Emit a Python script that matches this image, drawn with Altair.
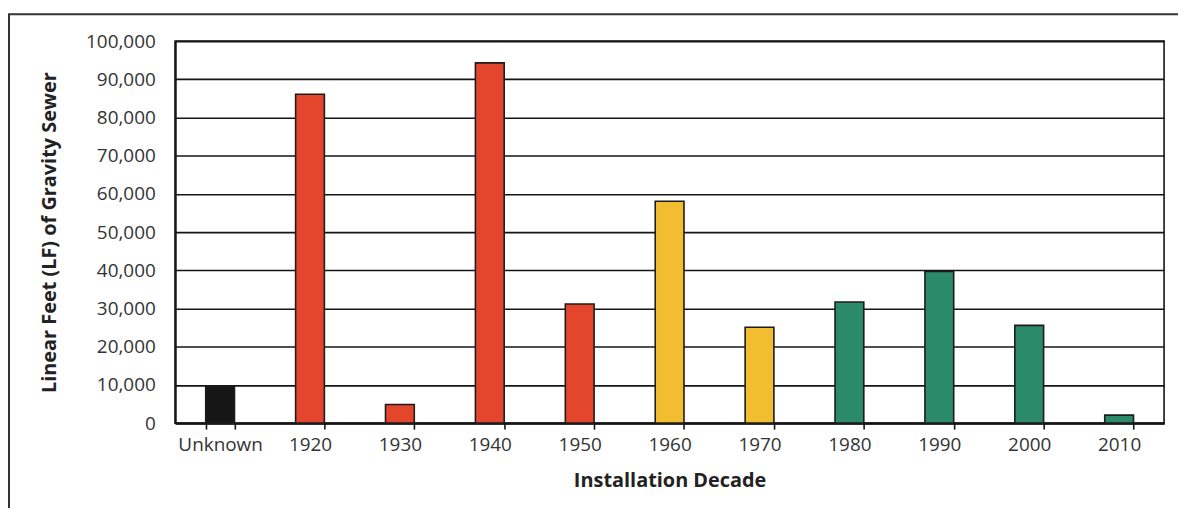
import altair as alt
import pandas as pd

decades = ["Unknown", "1920", "1930", "1940", "1950", "1960", "1970", "1980", "1990", "2000", "2010"]
lengths = [9600, 86100, 4900, 94300, 31200, 58100, 25100, 31700, 39700, 25600, 2100]
groups = ["unknown", "red", "red", "red", "red", "yellow", "yellow", "green", "green", "green", "green"]
group_domain = ["unknown", "red", "yellow", "green"]
group_colors = ["#161616", "#E4462D", "#F3BD31", "#2B8A69"]
y_ticks = list(range(0, 100001, 10000))

df = pd.DataFrame({"decade": decades, "lf": lengths, "group": groups})
frame_df = pd.DataFrame({"a": [0]})

FONT = "Open Sans"
INK = "#151515"

bars = alt.Chart(df).mark_bar(stroke="#1c1c1c", strokeWidth=1.6).encode(
    x=alt.X(
        "decade:N", sort=decades, title="Installation Decade",
        scale=alt.Scale(paddingInner=0.68, paddingOuter=0.34),
        axis=alt.Axis(
            labelAngle=0, tickBand="extent", ticks=True, tickSize=6,
            tickColor=INK, tickWidth=1.6, domainColor=INK, domainWidth=2.2,
            labelPadding=6, labelFontSize=19, labelColor="#333333",
            titleFontSize=20, titleFontWeight="bold", titleColor="#222222",
            titlePadding=17, grid=False,
        ),
    ),
    y=alt.Y(
        "lf:Q", title="Linear Feet (LF) of Gravity Sewer",
        scale=alt.Scale(domain=[0, 100000]),
        axis=alt.Axis(
            values=y_ticks, format=",d", grid=True, gridColor=INK, gridWidth=1.6,
            ticks=False, domainColor=INK, domainWidth=2.2, labelPadding=20,
            labelFontSize=19, labelColor="#333333", titleFontSize=20,
            titleFontWeight="bold", titleColor="#222222", titlePadding=26,
        ),
    ),
    color=alt.Color("group:N", scale=alt.Scale(domain=group_domain, range=group_colors), legend=None),
)

frame = alt.Chart(frame_df).mark_rect(fillOpacity=0, stroke="#333333", strokeWidth=2).encode(
    x=alt.value(-167), x2=alt.value(1100), y=alt.value(-27), y2=alt.value(700)
)

chart = alt.layer(frame, bars).properties(
    width=994, height=384,
    autosize=alt.AutoSizeParams(type="none"),
    padding={"left": 168, "top": 32, "right": 14, "bottom": 84},
).configure_view(stroke=INK, strokeWidth=1.6).configure_axis(labelFont=FONT, titleFont=FONT)

chart.save("out.html", embed_options={"renderer": "svg", "actions": False})
